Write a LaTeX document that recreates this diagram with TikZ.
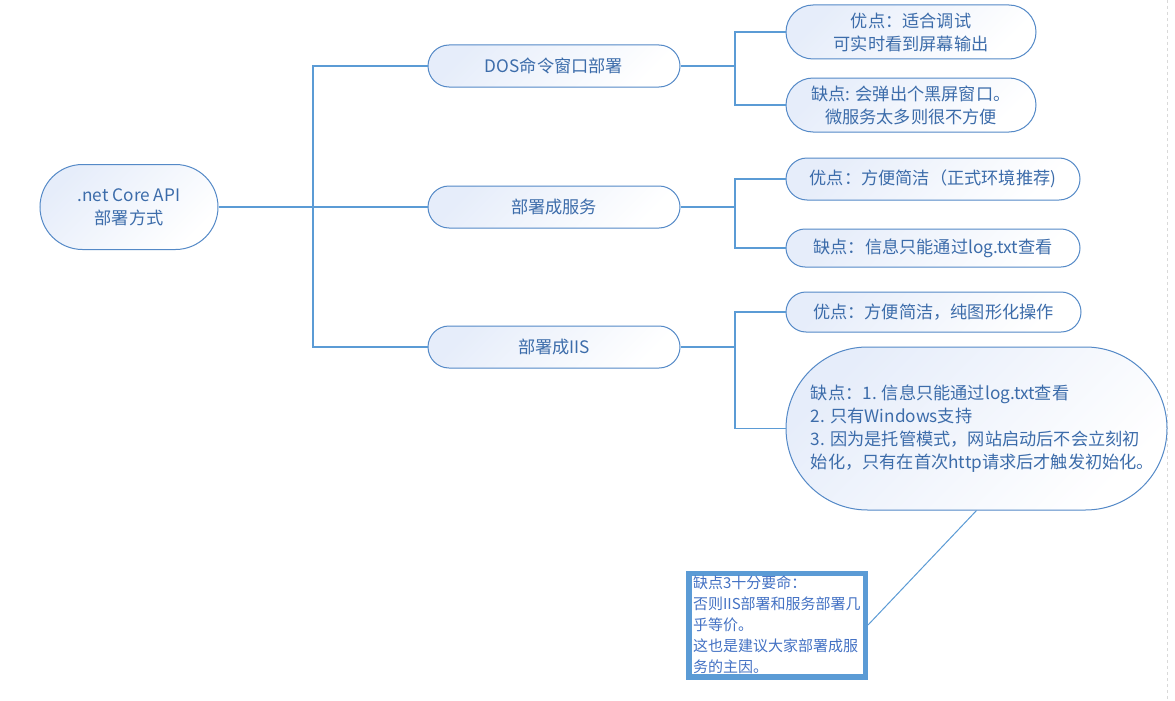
\documentclass[tikz,border=0pt]{standalone}
\usepackage{fontspec}
\setmainfont{Noto Sans CJK SC}
\definecolor{nborder}{RGB}{84,137,199}
\definecolor{ntext}{RGB}{60,108,170}
\definecolor{nfill}{RGB}{230,237,250}
\definecolor{nline}{RGB}{91,155,213}
\definecolor{notebd}{RGB}{91,155,213}
\definecolor{notetext}{RGB}{68,114,196}
\begin{document}
\begin{tikzpicture}[x=1pt,y=-1pt,
  mynode/.style={draw=nborder, line width=1pt, rounded corners=#1,
    left color=nfill, right color=white, shading angle=45,
    text=ntext, inner sep=0pt, align=center,
    font=\fontsize{17.2}{23}\selectfont},
  lbl/.style={text=ntext, inner sep=0pt, align=left,
    font=\fontsize{17.2}{23}\selectfont},
  conn/.style={draw=nline, line width=1.2pt},
  notebox/.style={draw=notebd, line width=5.5pt, fill=white, text=notetext,
    align=left, text width=168pt, inner xsep=4.25pt, inner ysep=0pt,
    minimum width=176.5pt, minimum height=103.5pt,
    font=\fontsize{15}{21}\selectfont}
]
\useasboundingbox (0,0) rectangle (1175,701);
\fill[white] (0,0) rectangle (1175,701);
\draw[black!15, dashed, line width=0.8pt] (1167,0) -- (1167,701);

\node[mynode=42.5pt, minimum width=178pt, minimum height=85pt] (root) at (129,207) {.net Core API\\部署方式};

\node[mynode=21pt, minimum width=252pt, minimum height=42pt] (dos) at (554,66) {DOS命令窗口部署};
\node[mynode=21pt, minimum width=252pt, minimum height=42pt] (svc) at (554,207) {部署成服务};
\node[mynode=21pt, minimum width=252pt, minimum height=42pt] (iis) at (554,347) {部署成IIS};

\node[mynode=27pt, minimum width=250pt, minimum height=54pt] (p1) at (911,32) {优点：适合调试\\可实时看到屏幕输出};
\node[mynode=27pt, minimum width=250pt, minimum height=54pt] (c1) at (911,105) {缺点: 会弹出个黑屏窗口。\\微服务太多则很不方便};

\node[mynode=21pt, minimum width=294pt, minimum height=42pt] (p2) at (933,179) {优点：方便简洁（正式环境推荐)};
\node[mynode=19pt, minimum width=294pt, minimum height=38pt] (c2) at (933,248) {缺点：信息只能通过log.txt查看};

\node[mynode=20pt, minimum width=295pt, minimum height=40pt] (p3) at (933.5,312) {优点：方便简洁，纯图形化操作};
\node[mynode=81.5pt, minimum width=381pt, minimum height=163pt] (c3) at (976.5,428.5) {};
\node[lbl] (c3t) at ([xshift=6pt]c3.center) {缺点：1. 信息只能通过log.txt查看\\2. 只有Windows支持\\3. 因为是托管模式，网站启动后不会立刻初\\始化，只有在首次http请求后才触发初始化。};

\node[notebox] (note) at (777,625) {缺点3十分要命：\\否则IIS部署和服务部署几\\乎等价。\\这也是建议大家部署成服\\务的主因。};

\coordinate (t1) at (313,0);
\coordinate (t2) at (735,0);

\draw[conn] (root.east) -- (root.east -| t1) |- (dos.west);
\draw[conn] (root.east -| t1) |- (iis.west);
\draw[conn] (root.east) -- (svc.west);

\draw[conn] (dos.east) -- (dos.east -| t2) |- (p1.west);
\draw[conn] (dos.east -| t2) |- (c1.west);
\draw[conn] (svc.east) -- (svc.east -| t2) |- (p2.west);
\draw[conn] (svc.east -| t2) |- (c2.west);
\draw[conn] (iis.east) -- (iis.east -| t2) |- (p3.west);
\draw[conn] (iis.east -| t2) |- (c3.west);

\draw[conn, line width=1pt] (c3.south) -- (note.east);
\end{tikzpicture}
\end{document}
